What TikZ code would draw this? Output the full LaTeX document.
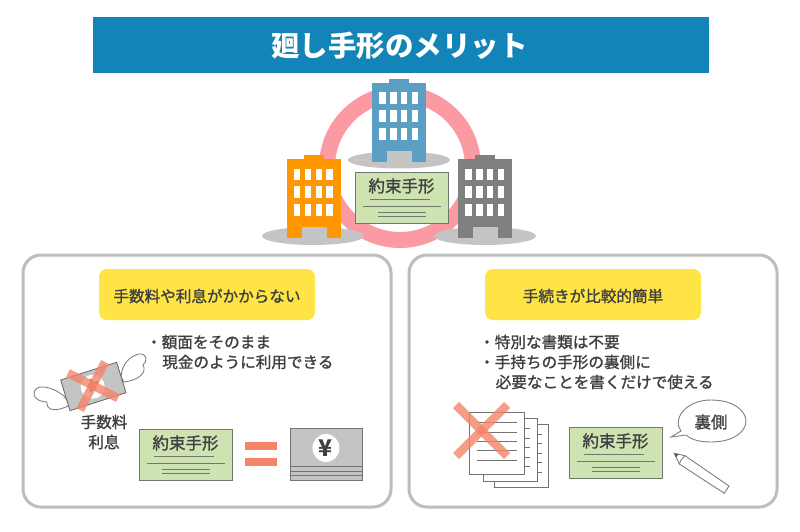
\documentclass[tikz,border=0pt]{standalone}
\usepackage{fontspec}
\setmainfont{Noto Sans CJK JP}
\newfontfamily\medfont{Noto Sans CJK JP}[FakeBold=1.3]
\usetikzlibrary{shapes.geometric}
\definecolor{hdr}{HTML}{1284B8}
\definecolor{ringc}{HTML}{FB9AA2}
\definecolor{shadowc}{HTML}{C4C4C4}
\definecolor{bluebld}{HTML}{5BA0C4}
\definecolor{orangebld}{HTML}{FF9800}
\definecolor{greybld}{HTML}{7F7F7F}
\definecolor{cardc}{HTML}{CFE2B2}
\definecolor{cardl}{HTML}{6E7A6E}
\definecolor{panelc}{HTML}{BDBDBD}
\definecolor{yel}{HTML}{FFE445}
\definecolor{txt}{HTML}{404040}
\definecolor{crossc}{HTML}{F58468}
\tikzset{
  txtnode/.style={text=txt,inner sep=0pt,font=\fontsize{15.6}{18}\selectfont\medfont},
  leftnode/.style={txtnode,anchor=west},
  panel/.style={draw=panelc,line width=3pt,fill=white,rounded corners=18pt},
  yelbox/.style={fill=yel,rounded corners=8pt},
  cardbox/.style={draw=cardl,line width=1pt,fill=cardc,minimum width=93pt,minimum height=51pt,inner sep=0pt,anchor=north west},
  cardtxt/.style={txtnode,font=\fontsize{16.5}{18}\selectfont\medfont},
  cardline/.style={draw=cardl,line width=0.9pt},
  cross/.style={draw=crossc,line width=8.5pt,opacity=.8},
  thinl/.style={draw=gray!90!black,line width=.9pt},
  pagebox/.style={draw=gray!90!black,line width=.9pt,fill=white},
  wingline/.style={draw=gray,line width=.9pt,fill=white},
}
\newcommand{\notecard}[3]{%
  \begin{scope}[shift={(#1,#2)}]
    \node[cardbox] (#3) at (0,0) {};
    \node[cardtxt] (#3t) at (46.5,14) {約束手形};
    \draw[cardline] (15,27.5) -- (75,27.5);
    \draw[cardline] (8,34.5) -- (86,34.5);
    \draw[cardline] (23,40) -- (71,40);
    \draw[cardline] (23,44.5) -- (71,44.5);
  \end{scope}}
\newcommand{\building}[3]{%
  \begin{scope}[shift={(#1,#2)}]
    \fill[#3] (0,4) rectangle (54,83);
    \fill[#3] (17,0) rectangle (37,5);
    \fill[shadowc] (15,72) rectangle (40,83);
    \foreach \r in {13.5,31.2,49}{
      \foreach \c in {7.4,18.2,29,39.8}{
        \fill[white] (\c,\r) rectangle ++(6.4,11.5);
      }}
  \end{scope}}
\begin{document}
\begin{tikzpicture}[x=1pt,y=-1pt]
\useasboundingbox (0,0) rectangle (800,532);
\fill[white] (0,0) rectangle (800,532);
% header
\fill[hdr] (93,17) rectangle (709,73);
\node[text=white,inner sep=0pt,font=\fontsize{28.5}{32}\selectfont\bfseries] (title) at (399.5,46) {廻し手形のメリット};
% panels
\draw[panel] (23,255) rectangle (391,507);
\draw[panel] (409,255) rectangle (777,507);
% ring
\draw[ringc,line width=16pt] (400,167) circle (73);
% buildings
\fill[shadowc] (399,160) ellipse (51 and 8.5);
\fill[shadowc] (313,236) ellipse (51 and 9);
\fill[shadowc] (485,236) ellipse (51 and 9);
\building{372}{79}{bluebld}
\building{286.5}{155}{orangebld}
\building{458}{155}{greybld}
\notecard{355}{172}{cardA}
% yellow boxes
\fill[yelbox] (99,269) rectangle (315,320);
\fill[yelbox] (485,269) rectangle (701,320);
\node[txtnode] (headL) at (207,296) {手数料や利息がかからない};
\node[txtnode] (headR) at (593,296) {手続きが比較的簡単};
% left bullets
\node[leftnode] (l1) at (146,342) {・額面をそのまま};
\node[leftnode] (l2) at (162,362) {現金のように利用できる};
% flying money
\draw[wingline] (64,396) .. controls (50,385) and (35,384) .. (34,393) .. controls (34,401) and (44,402) .. (47,402) .. controls (46,410) and (55,413) .. (70,405) -- cycle;
\draw[wingline] (121,377) .. controls (122,365) and (128,357) .. (139,354) .. controls (147,353) and (148,361) .. (143,365) .. controls (147,372) and (140,380) .. (124,382) -- cycle;
\draw[draw=gray!80!black,line width=.8pt,fill=shadowc] (60.7,380) -- (116.7,362.3) -- (126,392.7) -- (70,410.7) -- cycle;
\fill[white] (92.7,386.7) circle (12);
\node[text=txt,inner sep=0pt,rotate=-18,font=\fontsize{16}{18}\selectfont\bfseries] (yenA) at (93,386) {¥};
\draw[cross] (68,373) -- (118,398);
\draw[cross] (105,362) -- (80,410);
\node[txtnode] (fee) at (104,422) {手数料};
\node[txtnode] (int) at (104,442) {利息};
\notecard{139}{429}{cardB}
% equals
\fill[crossc] (245,442) rectangle (277,450);
\fill[crossc] (245,458) rectangle (277,466);
% yen note
\draw[draw=gray!90!black,line width=.9pt,fill=shadowc] (290,428) rectangle (362,480);
\draw[thinl] (290,466) -- (362,466);
\draw[thinl] (290,471) -- (362,471);
\draw[thinl] (290,475.5) -- (362,475.5);
\fill[white] (326,448) ellipse (13.5 and 14);
\node[text=txt,inner sep=0pt,font=\fontsize{23}{26}\selectfont\bfseries] (yenB) at (325.5,448) {¥};
% right bullets
\node[leftnode] (r1) at (479,342) {・特別な書類は不要};
\node[leftnode] (r2) at (479,362) {・手持ちの手形の裏側に};
\node[leftnode] (r3) at (495.5,382) {必要なことを書くだけで使える};
% pages
\draw[pagebox] (494,424) rectangle (548,487);
\foreach \y in {434,443,453,462,472} \draw[thinl] (537,\y) -- (542,\y);
\draw[pagebox] (483,418) rectangle (537,481);
\foreach \y in {428,438,447,457,466} \draw[thinl] (524,\y) -- (530,\y);
\draw[pagebox] (469,412) rectangle (524,474);
\foreach \y in {422,432,441,450,460} \draw[thinl] (477,\y) -- (517,\y);
\draw[cross] (456,405) -- (507,456);
\draw[cross] (507,405) -- (456,456);
\notecard{569}{427}{cardC}
% speech bubble
\draw[wingline] (681,431) .. controls (672,420) and (685,400) .. (711,400) .. controls (735,400) and (746,412) .. (746,421) .. controls (746,432) and (733,442) .. (711,442) .. controls (700,442) and (692,440) .. (686,435) -- (671,437) -- cycle;
\node[txtnode,font=\fontsize{16.5}{18}\selectfont\medfont] (back) at (711,422) {裏側};
% pencil
\draw[wingline] (674.3,453.3) -- (685,455.7) -- (729,486) -- (724.3,493.3) -- (679.3,464) -- cycle;
\draw[draw=gray,line width=.9pt] (685,455.7) -- (681,460) -- (679.3,464);
\fill[gray!70!black] (674.3,453.3) -- (678.5,454.2) -- (676,457.6) -- cycle;
\end{tikzpicture}
\end{document}
